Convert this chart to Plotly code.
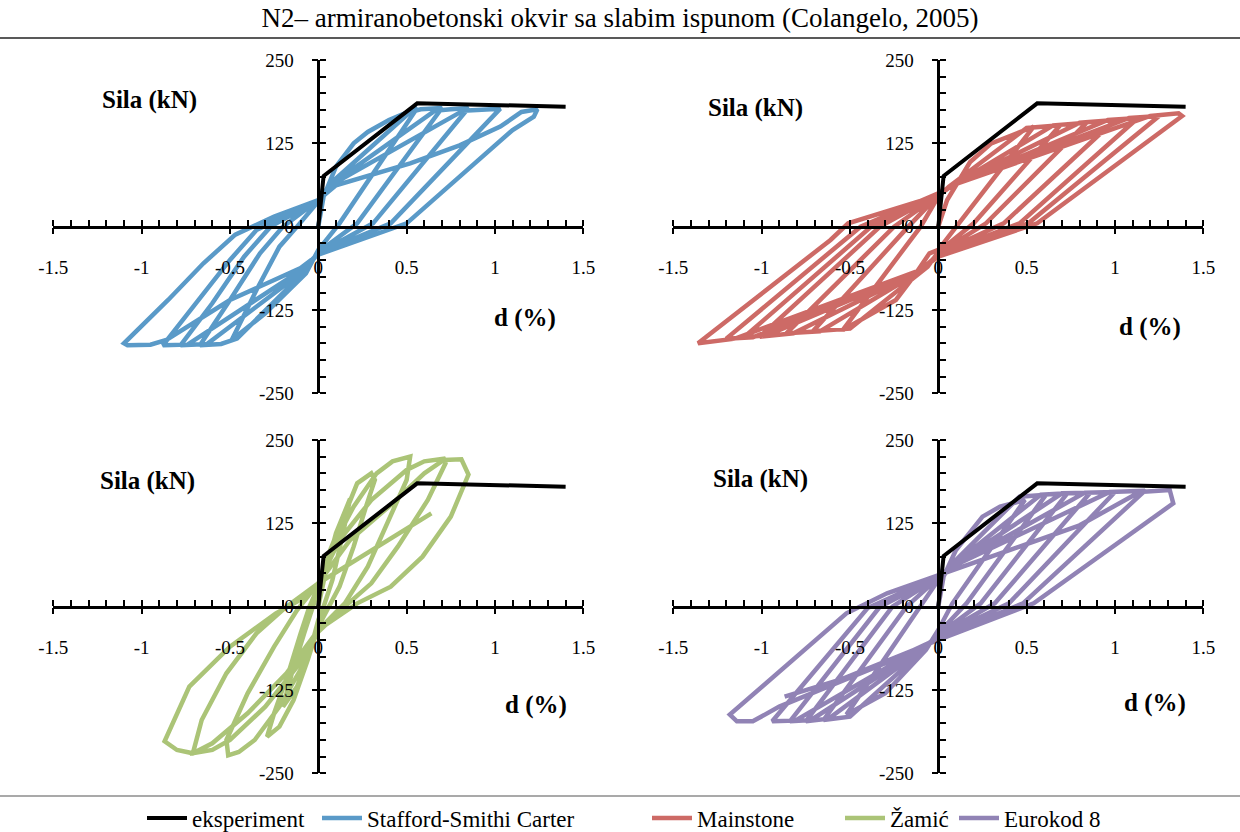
import plotly.graph_objects as go

# experiment (black bilinear curve), shown in every panel
exp_d = [0, 0.03, 0.56, 1.40]
exp_f = [0, 76, 185, 180]

# Stafford-Smith i Carter
sts_d = [0, 0.03, 0.10, 0.20, 0.28, 0.40, 0.56, 0.12, 0, -0.07, -0.30, -0.49, -0.35, -0.22, -0.12, 0,
         0.07, 0.52, 0.58, 0.70, 0.22, 0, -0.08, -0.46, -0.55, -0.67, -0.50, -0.33, -0.20, 0,
         0.08, 0.66, 0.75, 0.85, 0.31, 0, -0.08, -0.63, -0.78, -0.60, -0.42, -0.27, 0,
         0.09, 0.82, 0.92, 1.03, 0.41, 0, -0.09, -0.74, -0.88, -0.70, -0.50, -0.35, 0,
         0.10, 0.52, 0.80, 1.03, 1.15, 1.24, 1.22, 1.10, 0.50, 0, -0.10, -0.50, -0.86, -0.95, -1.08, -1.10,
         -0.85, -0.65, -0.47, -0.25, 0]
sts_f = [0, 45, 90, 125, 142, 160, 178, 5, -35, -70, -130, -170, -95, -30, 0, 38,
         65, 172, 176, 178, 5, -38, -68, -168, -176, -178, -110, -40, 0, 40,
         65, 174, 176, 178, 5, -40, -66, -176, -178, -115, -45, 0, 40,
         65, 174, 176, 177, 5, -40, -64, -177, -178, -118, -50, -5, 40,
         62, 95, 122, 150, 172, 176, 165, 145, 5, -42, -62, -110, -170, -177, -178, -175,
         -110, -55, -12, 15, 40]

# Mainstone
ms_d = [0, 0.05, 0.18, 0.30, 0.54, 0.12, 0, -0.05, -0.14, -0.24, -0.54, -0.10, 0,
        0.06, 0.50, 0.69, 0.20, 0, -0.06, -0.50, -0.71, -0.17, 0,
        0.07, 0.65, 0.84, 0.27, 0, -0.07, -0.67, -0.86, -0.25, 0,
        0.08, 0.80, 1.00, 0.37, 0, -0.08, -0.82, -1.01, -0.33, 0,
        0.09, 0.96, 1.13, 0.46, 0, -0.09, -0.97, -1.10, -0.38, 0,
        0.10, 1.08, 1.25, 0.51, 0, -0.10, -1.05, -1.20, -0.44, 0,
        0.11, 1.20, 1.36, 1.38, 0.56, 0, -0.11, -1.15, -1.30, -1.36, -0.61, -0.51, 0]
ms_f = [0, 40, 97, 125, 150, 5, -35, -40, -75, -110, -155, 0, 45,
        60, 148, 152, 5, -38, -60, -153, -157, 0, 47,
        60, 152, 156, 5, -40, -62, -157, -160, 0, 48,
        62, 156, 160, 5, -40, -63, -160, -165, 0, 48,
        63, 160, 163, 5, -42, -64, -163, -166, 0, 50,
        64, 163, 166, 5, -42, -65, -166, -168, 0, 50,
        65, 166, 170, 166, 5, -45, -66, -168, -172, -175, -20, 5, 47]

# Zamic
zm_d = [0, 0.04, 0.10, 0.18, 0.14, 0.08, 0.03, 0, -0.05, -0.12, -0.20, -0.15, -0.08, -0.03, 0,
        0.06, 0.15, 0.22, 0.30, 0.32, 0.27, 0.20, 0.12, 0.06, 0, -0.06, -0.14, -0.22, -0.29, -0.25,
        -0.17, -0.10, -0.05, 0,
        0.08, 0.20, 0.33, 0.42, 0.52, 0.50, 0.40, 0.28, 0.15, 0, -0.08, -0.22, -0.36, -0.45, -0.51,
        -0.52, -0.40, -0.25, -0.12, 0,
        0.12, 0.30, 0.50, 0.60, 0.71, 0.72, 0.62, 0.45, 0.30, 0.15, 0, -0.12, -0.30, -0.50, -0.60,
        -0.71, -0.66, -0.52, -0.35, -0.18, 0,
        0.18, 0.40, 0.60, 0.71, 0.81, 0.85, 0.75, 0.59, 0.41, 0.22, 0, -0.18, -0.40, -0.60, -0.71,
        -0.80, -0.87, -0.73, -0.50, -0.24, -0.07, 0,
        0.30, 0.64]
zm_f = [0, 50, 110, 162, 110, 40, 0, -20, -70, -120, -150, -100, -40, 0, 25,
        80, 140, 185, 200, 190, 150, 90, 30, 0, -30, -80, -140, -180, -195, -160,
        -100, -40, 0, 30,
        90, 150, 200, 218, 225, 190, 130, 60, 5, -35, -85, -150, -200, -218, -223,
        -200, -130, -60, -5, 35,
        100, 160, 205, 218, 222, 215, 160, 90, 35, 0, -38, -90, -150, -200, -215,
        -220, -170, -100, -40, 0, 35,
        100, 150, 200, 220, 221, 198, 135, 75, 30, 5, -35, -100, -160, -205, -220,
        -215, -202, -120, -60, -10, 15, 35,
        85, 140]

# Eurokod 8
ek_d = [0, 0.03, 0.10, 0.25, 0.35, 0.49, 0.08, 0, -0.07, -0.30, -0.52, -0.10, 0,
        0.07, 0.46, 0.61, 0.16, 0, -0.07, -0.50, -0.65, -0.18, 0,
        0.08, 0.58, 0.73, 0.24, 0, -0.08, -0.62, -0.75, -0.26, 0,
        0.09, 0.70, 0.86, 0.32, 0, -0.09, -0.72, -0.84, -0.33, 0,
        0.10, 0.83, 1.00, 0.40, 0, -0.10, -0.81, -0.94, -0.40, 0,
        0.11, 0.97, 1.17, 0.48, 0, -0.30, -0.90, -1.05, -1.14, -1.18, -0.52, -0.29, 0,
        0.50, 0.80, 1.14, 1.31, 1.33, 0.54, 0, -0.56, -0.87]
ek_f = [0, 45, 85, 135, 150, 160, 5, -35, -65, -130, -162, 0, 40,
        62, 165, 168, 5, -40, -62, -165, -170, 0, 42,
        62, 168, 170, 5, -42, -62, -168, -172, 0, 44,
        63, 170, 171, 5, -44, -62, -170, -172, 0, 45,
        63, 171, 172, 5, -46, -62, -171, -172, -2, 46,
        64, 172, 174, 5, -48, -85, -150, -172, -172, -162, -10, 20, 47,
        95, 122, 172, 175, 155, 5, -50, -110, -135]

x_ticks = [-1.5, -1, -0.5, 0, 0.5, 1, 1.5]
x_tick_labels = ["-1.5", "-1", "-0.5", "0", "0.5", "1", "1.5"]
y_ticks = [-250, -125, 0, 125, 250]
y_tick_labels = ["-250", "-125", "0", "125", "250"]

W, H = 1240, 832
FONT = "Liberation Serif"

panels = [
    ("Stafford-Smithi Carter", sts_d, sts_f, "#5A9AC8"),
    ("Mainstone", ms_d, ms_f, "#CD6A66"),
    ("Žamić", zm_d, zm_f, "#ABC477"),
    ("Eurokod 8", ek_d, ek_f, "#9183B5"),
]
# pixel boxes of the four plot areas: (left, right, top, bottom)
boxes = [(53.3, 583.3, 60, 393.3), (673.3, 1203.3, 60, 393.3),
         (53.3, 583.3, 440, 773.3), (673.3, 1203.3, 440, 773.3)]
sila_pos = [(149, 100), (755, 108), (147, 481), (760, 479)]
d_pos = [(525, 318), (1150, 327), (536, 705), (1155, 703)]
# left edge (px) of each legend entry: eksperiment, then the four models
legend_left = [142, 317, 647, 840, 954]

fig = go.Figure()
annotations = []
for i, (name, xs, ys, col) in enumerate(panels):
    s = "" if i == 0 else str(i + 1)
    fig.add_trace(go.Scatter(x=xs, y=ys, mode="lines", name=name, legend="legend" + str(i + 2),
                             line=dict(color=col, width=4.5), xaxis="x" + s, yaxis="y" + s,
                             showlegend=True))
    fig.add_trace(go.Scatter(x=exp_d, y=exp_f, mode="lines", name="eksperiment", legend="legend",
                             line=dict(color="black", width=4), xaxis="x" + s, yaxis="y" + s,
                             showlegend=(i == 0)))

    l, r, t, b = boxes[i]
    xdom = [l / W, r / W]
    ydom = [1 - b / H, 1 - t / H]
    ypos = (ydom[0] + ydom[1]) / 2
    xpos = (xdom[0] + xdom[1]) / 2
    fig.update_layout(**{
        "xaxis" + s: dict(domain=xdom, range=[-1.5, 1.5], anchor="free", position=ypos,
                          showline=True, linecolor="black", linewidth=2.5,
                          ticks="outside", ticklen=6, tickwidth=2, tickcolor="black",
                          tickmode="array", tickvals=x_ticks, ticktext=x_tick_labels,
                          minor=dict(ticks="inside", dtick=0.1, tick0=0, ticklen=6,
                                     tickwidth=2, tickcolor="black"),
                          showgrid=False, zeroline=False, ticklabelstandoff=17,
                          automargin=False,
                          tickfont=dict(family=FONT, size=19, color="black")),
        "yaxis" + s: dict(domain=ydom, range=[-250, 250], anchor="free", position=xpos,
                          showline=True, linecolor="black", linewidth=2.5,
                          ticks="outside", ticklen=6, tickwidth=2, tickcolor="black",
                          tickmode="array", tickvals=y_ticks, ticktext=y_tick_labels,
                          minor=dict(ticks="inside", dtick=25, tick0=0, ticklen=6,
                                     tickwidth=2, tickcolor="black"),
                          showgrid=False, zeroline=False, ticklabelstandoff=14,
                          automargin=False,
                          tickfont=dict(family=FONT, size=19, color="black")),
    })
    annotations.append(dict(text="<b>Sila (kN)</b>", x=sila_pos[i][0] / W, y=1 - sila_pos[i][1] / H,
                            xref="paper", yref="paper", xanchor="center", yanchor="middle",
                            showarrow=False, font=dict(family=FONT, size=25, color="black")))
    annotations.append(dict(text="<b>d (%)</b>", x=d_pos[i][0] / W, y=1 - d_pos[i][1] / H,
                            xref="paper", yref="paper", xanchor="center", yanchor="middle",
                            showarrow=False, font=dict(family=FONT, size=25, color="black")))

legend_style = dict(orientation="h", xanchor="left", y=1 - 818 / H, yanchor="middle",
                    font=dict(family=FONT, size=23, color="black"), bgcolor="rgba(0,0,0,0)",
                    itemwidth=40)
legends = {}
for k, left in enumerate(legend_left):
    key = "legend" if k == 0 else "legend" + str(k + 1)
    legends[key] = dict(legend_style, x=left / W)

fig.update_layout(
    width=W, height=H,
    margin=dict(l=0, r=0, t=0, b=0, autoexpand=False),
    paper_bgcolor="white", plot_bgcolor="rgba(0,0,0,0)",
    title=dict(text="N2– armiranobetonski okvir sa slabim ispunom (Colangelo, 2005)",
               x=0.5, xanchor="center", y=1 - 18 / H, yanchor="middle",
               font=dict(family=FONT, size=27, color="black")),
    annotations=annotations,
    shapes=[
        dict(type="line", xref="paper", yref="paper", x0=0, x1=1, y0=1 - 38 / H, y1=1 - 38 / H,
             line=dict(color="#222222", width=1.5)),
        dict(type="line", xref="paper", yref="paper", x0=0, x1=1, y0=1 - 796 / H, y1=1 - 796 / H,
             line=dict(color="#555555", width=1.2)),
    ],
    showlegend=True,
    **legends,
)

fig.write_html("out.html", config={"displayModeBar": False},
               post_script="document.body.style.margin='0';")
